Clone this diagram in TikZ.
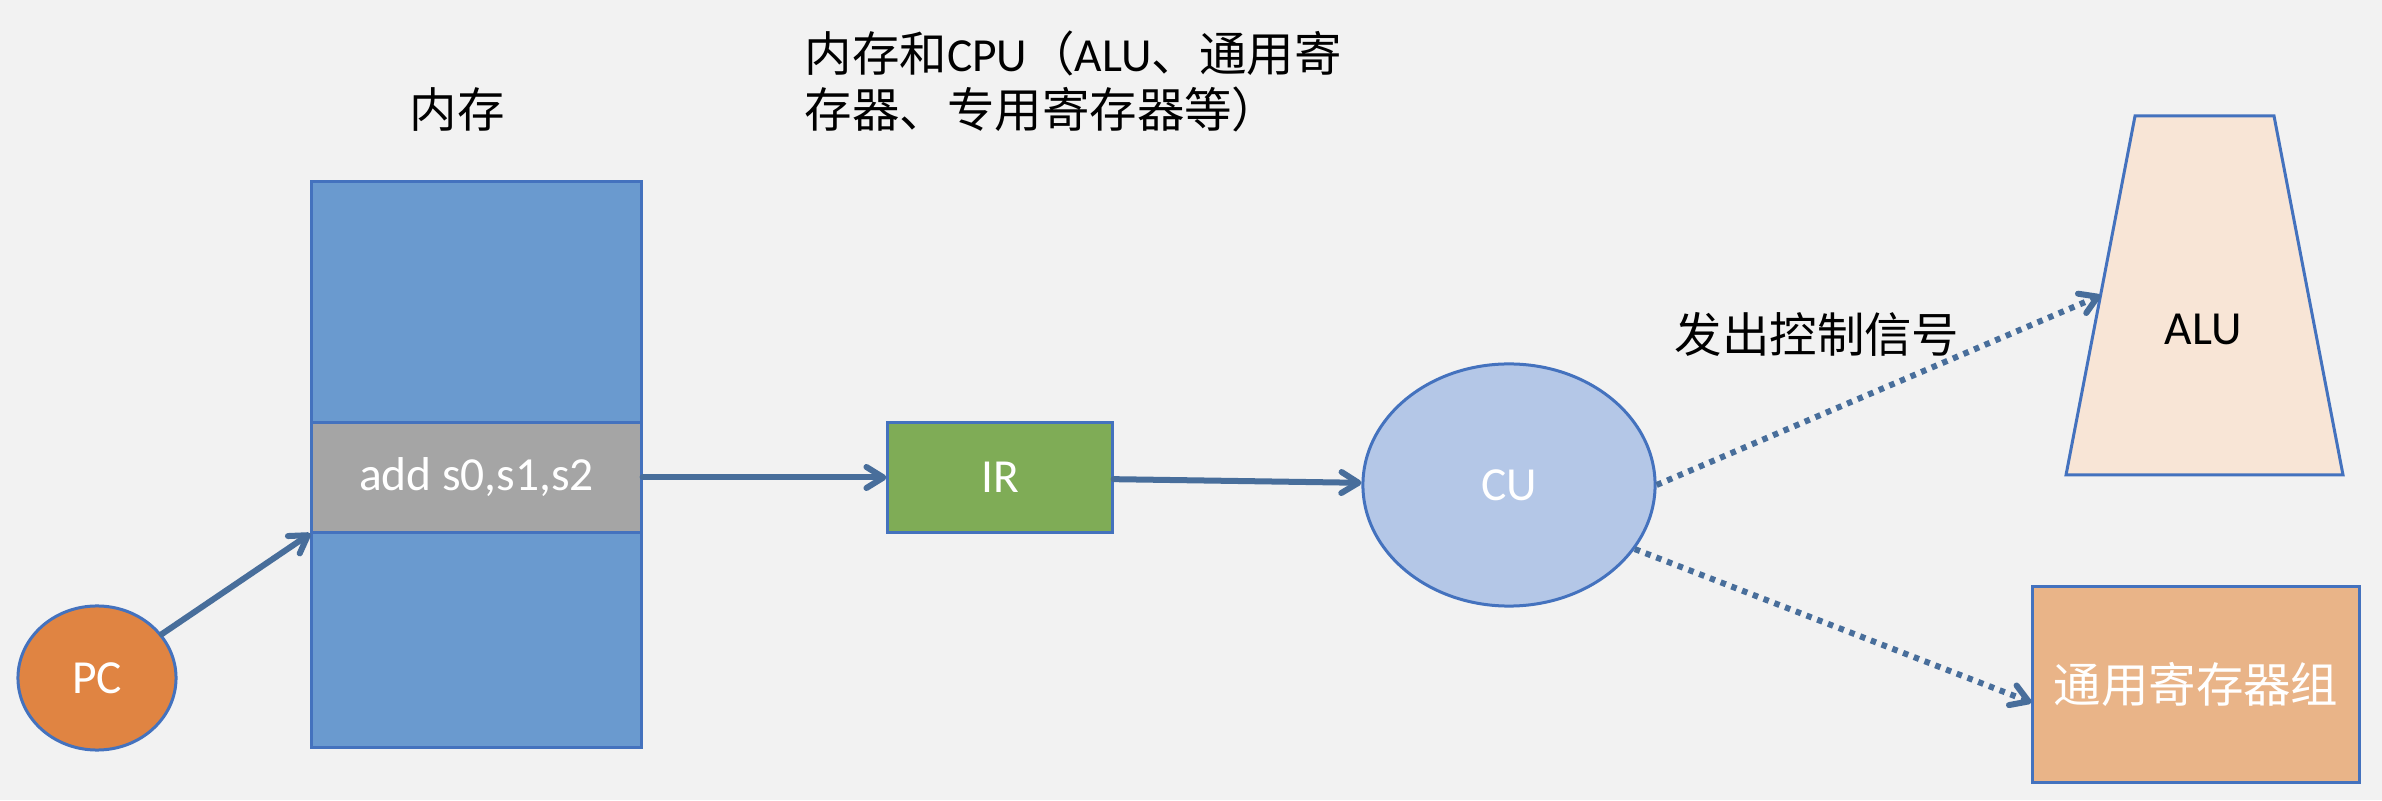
\documentclass[tikz,border=0pt]{standalone}
\usepackage{fontspec}
\setmainfont{Carlito}
\newfontfamily\cjk{Noto Sans CJK SC}
\usetikzlibrary{arrows.meta,shapes}
\definecolor{bgc}{RGB}{242,242,242}
\definecolor{outc}{RGB}{68,114,190}
\definecolor{connc}{RGB}{72,110,155}
\definecolor{memc}{RGB}{106,154,207}
\definecolor{instc}{RGB}{165,165,165}
\definecolor{pcc}{RGB}{224,132,66}
\definecolor{irc}{RGB}{127,172,86}
\definecolor{cuc}{RGB}{180,199,231}
\definecolor{aluc}{RGB}{248,229,214}
\definecolor{regc}{RGB}{233,180,136}
\tikzset{>={Straight Barb[length=0.17cm,width=0.21cm,round]},
  box/.style={draw=outc,line width=0.03cm,inner sep=0},
  ell/.style={ellipse,draw=outc,line width=0.03cm,inner sep=0,text=white},
  conn/.style={->,draw=connc,line width=0.06cm,line cap=round},
  ctrl/.style={->,draw=connc,line width=0.06cm,dash pattern=on 0.055cm off 0.06cm}}

\begin{document}
\begin{tikzpicture}[x=0.01cm,y=0.01cm,font=\fontsize{13.5}{16}\selectfont]
\fill[bgc] (0,0) rectangle (2382,800);
\node[box,fill=memc,minimum width=3.29cm,minimum height=5.65cm] (mem) at (476.5,335.5) {};
\node[box,fill=instc,text=white,minimum width=3.29cm,minimum height=1.09cm] (instr) at (476.5,322.5) {add s0,s1,s2};
\node[ell,fill=pcc,minimum width=1.58cm,minimum height=1.44cm] (pc) at (97,122) {PC};
\node[box,fill=irc,text=white,minimum width=2.24cm,minimum height=1.09cm] (ir) at (1000,322.5) {IR};
\node[ell,fill=cuc,minimum width=2.92cm,minimum height=2.42cm] (cu) at (1509,315) {CU};
\node[box,fill=regc,text=white,minimum width=3.26cm,minimum height=1.95cm] (reg) at (2196,115.5) {\cjk 通用寄存器组};
\draw[draw=outc,line width=0.03cm,fill=aluc] (2066,325) -- (2135,684) -- (2274,684) -- (2343,325) -- cycle;
\coordinate (aluw) at (2100.5,504.5);
\node (alu) at (2203,471) {ALU};

\node (memt) at (457,690) {\cjk 内存};
\node[anchor=north west,align=left,inner sep=0] (cput) at (804,770) {{\cjk 内存和}CPU{\cjk （}ALU{\cjk 、通用寄}\\{\cjk 存器、专用寄存器等）}};
\node (sigt) at (1817,466) {\cjk 发出控制信号};

\draw[conn] (pc) -- (instr.south west);
\draw[conn] (instr) -- (ir);
\draw[conn] (ir) -- (cu);
\draw[ctrl] (cu.east) -- (aluw);
\draw[ctrl] (cu.-27) -- ([yshift=-0.18cm]reg.west);
\end{tikzpicture}
\end{document}
